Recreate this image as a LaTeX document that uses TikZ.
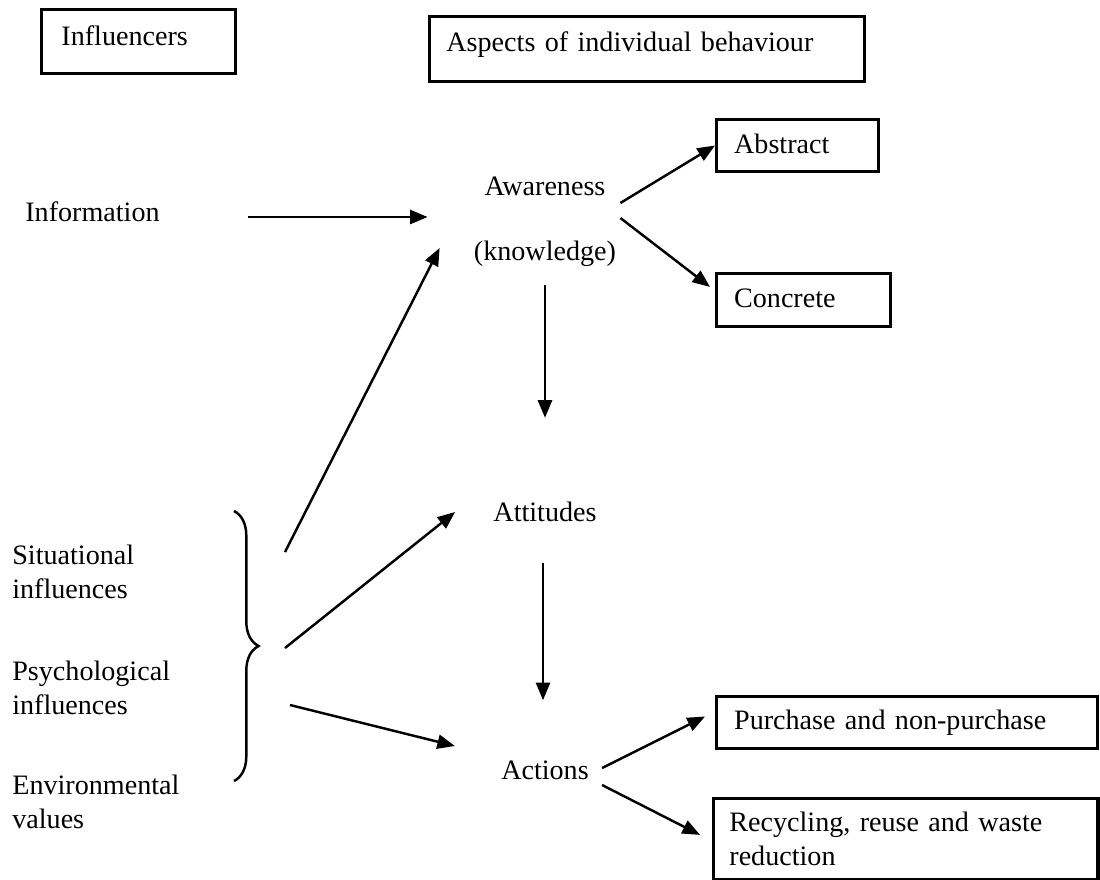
\documentclass[tikz,border=0pt]{standalone}
\usepackage{fontspec}
\setmainfont{Liberation Serif}
\usetikzlibrary{arrows.meta, decorations.pathreplacing}
\newcommand{\diagfont}{\fontsize{16}{19}\selectfont}

\begin{document}
\begin{tikzpicture}[x=0.02cm, y=-0.02cm,
    box/.style={draw, line width=1.8pt, anchor=north west, align=left,
                inner xsep=10pt, inner ysep=0pt, font=\diagfont},
    lbl/.style={inner sep=0pt, font=\diagfont},
    arr/.style={->, line width=1.4pt},
    >={Triangle[length=10pt, width=8pt]}]
  \useasboundingbox (0,0) rectangle (1100,880);
  % headings
  \node[box, inner xsep=11.3pt, text width=87.9pt, text depth=7pt, minimum height=36.3pt] (infl) at (40,8) {Influencers};
  \node[box, inner xsep=9.6pt, text width=228.5pt, text depth=8pt, minimum height=36.8pt] (asp) at (428,15) {Aspects of individual behaviour};

  % influencers
  \node[lbl, anchor=west] (info) at (25,212) {Information};
  \node[lbl, anchor=west, align=left] (sit) at (12,572) {Situational\\influences};
  \node[lbl, anchor=west, align=left] (psy) at (12,688) {Psychological\\influences};
  \node[lbl, anchor=west, align=left] (env) at (12,802) {Environmental\\values};
  \draw[line width=1.4pt, decorate, decoration={brace, amplitude=14pt}] (234,511) -- (234,781);
  \coordinate (br1) at (285,552);
  \coordinate (br2) at (285,648);
  \coordinate (br3) at (290,705);

  % behaviour
  \node[lbl, align=center] (aware) at (545,222) {Awareness\\[18pt](knowledge)};
  \node[lbl] (att) at (545,512) {Attitudes};
  \node[lbl] (act) at (545,770) {Actions};
  \node[box, text width=72pt, text depth=2pt, minimum height=29.5pt] (abs) at (715,118) {Abstract};
  \node[box, text width=78.8pt, text depth=2pt, minimum height=30pt] (con) at (715,272) {Concrete};
  \node[box, text width=196.7pt, minimum height=29.5pt] (pur) at (715,695) {Purchase and non-purchase};
  \node[box, inner xsep=9pt, text width=200.8pt, minimum height=45.9pt] (rec) at (712,797) {Recycling, reuse and waste\\reduction};

  % arrows
  \draw[arr] ([shift={(88,5)}]info.east) -- ([shift={(-46,-5)}]aware.west);
  \draw[arr] (br1) -- ([shift={(-34,26)}]aware.west);
  \draw[arr] (br2) -- ([shift={(-38,0)}]att.west);
  \draw[arr] (br3) -- ([shift={(-46,-24)}]act.west);
  \draw[arr] ([shift={(4,-19)}]aware.east) -- (abs.west);
  \draw[arr] ([shift={(4,-4)}]aware.east) -- ([shift={(-5,-13)}]con.west);
  \draw[arr] ([shift={(0,18)}]aware.south) -- ([shift={(0,-84)}]att.north);
  \draw[arr] ([shift={(-2,41)}]att.south) -- ([shift={(-2,-60)}]act.north);
  \draw[arr] ([shift={(13,-2)}]act.east) -- ([shift={(-10,-6)}]pur.west);
  \draw[arr] ([shift={(13,15)}]act.east) -- ([shift={(-12,-4)}]rec.west);
\end{tikzpicture}
\end{document}
